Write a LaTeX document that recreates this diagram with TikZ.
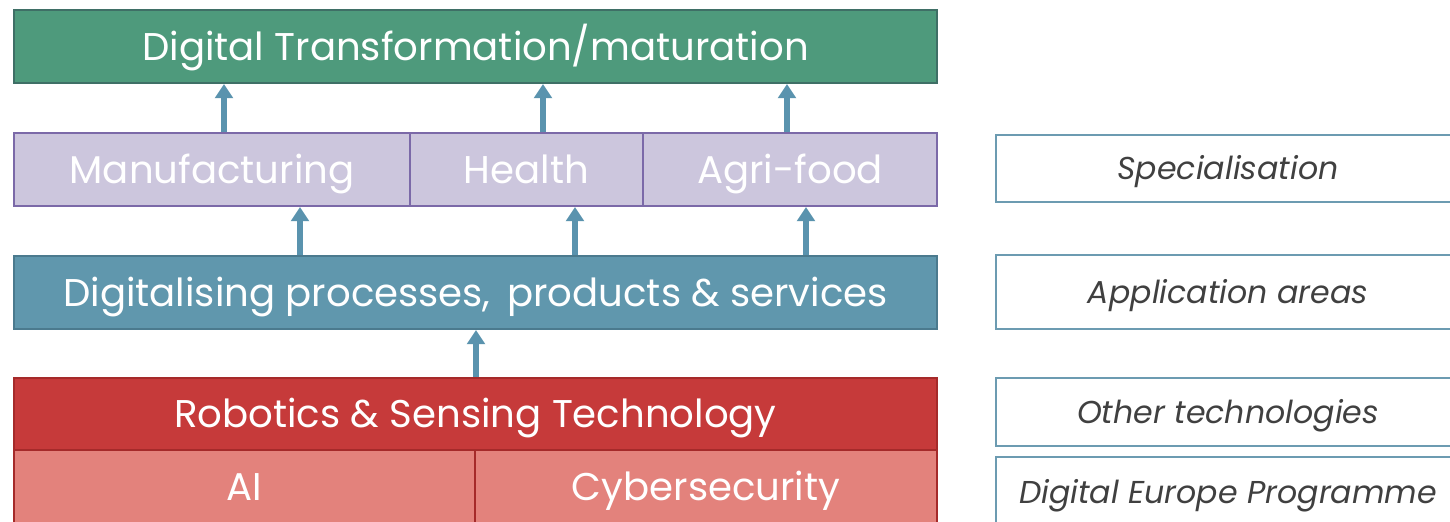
\documentclass[tikz,border=0pt]{standalone}
\usepackage{fontspec}
\setmainfont{Poppins}
\usetikzlibrary{arrows.meta}
\definecolor{greenfill}{HTML}{4E9A7C}
\definecolor{greenline}{HTML}{3F6F66}
\definecolor{lilacfill}{HTML}{CCC6DD}
\definecolor{lilacline}{HTML}{7B69A8}
\definecolor{bluefill}{HTML}{6097AD}
\definecolor{blueline}{HTML}{4B7A8E}
\definecolor{redfill}{HTML}{C63A3A}
\definecolor{redline}{HTML}{A52A2A}
\definecolor{pinkfill}{HTML}{E3827C}
\definecolor{arrowblue}{HTML}{5A93AE}
\definecolor{sideline}{HTML}{6C9BB1}
\definecolor{sidetext}{HTML}{404040}
\tikzset{
  layer/.style={draw, line width=1.2pt, inner sep=0pt, text=white,
    text height=15.4pt, text depth=0pt, font=\fontsize{22}{26}\selectfont},
  side/.style={draw=sideline, line width=1.2pt, fill=white, inner sep=0pt,
    text=sidetext, text height=12.6pt, text depth=0pt, minimum width=9.28cm,
    font=\fontsize{18}{22}\selectfont\itshape},
  up/.style={draw=arrowblue, line width=3.4pt, -{Triangle[width=10pt,length=8pt]}}
}
\begin{document}
\begin{tikzpicture}[x=0.02cm, y=-0.02cm]
\clip (0,0) rectangle (1450,521);
\fill[white] (0,0) rectangle (1450,521);

% stacked layers
\node[layer, fill=greenfill, draw=greenline, minimum width=18.46cm, minimum height=1.46cm] (dtm) at (475.5,46.5) {Digital Transformation/maturation};

\node[layer, fill=lilacfill, draw=lilacline, minimum width=7.92cm, minimum height=1.46cm] (manu) at (212,169.5) {Manufacturing};
\node[layer, fill=lilacfill, draw=lilacline, minimum width=4.66cm, minimum height=1.46cm] (health) at (526.5,169.5) {Health};
\node[layer, fill=lilacfill, draw=lilacline, minimum width=5.88cm, minimum height=1.46cm] (agri) at (790,169.5) {Agri-food};

\node[layer, fill=bluefill, draw=blueline, minimum width=18.46cm, minimum height=1.46cm] (digi) at (475.5,292.5) {Digitalising processes,\, products \& services};

\node[layer, fill=redfill, draw=redline, minimum width=18.46cm, minimum height=1.44cm] (robo) at (475.5,414) {Robotics \& Sensing Technology};

\node[layer, fill=pinkfill, draw=redline, minimum width=9.22cm, minimum height=1.46cm] (ai) at (244.5,486.5) {AI};
\node[layer, fill=pinkfill, draw=redline, minimum width=9.24cm, minimum height=1.46cm] (cyber) at (706,486.5) {Cybersecurity};

% arrows
\draw[up] (manu.north -| 224,0) -- (dtm.south -| 224,0);
\draw[up] (health.north -| 543,0) -- (dtm.south -| 543,0);
\draw[up] (agri.north -| 787,0) -- (dtm.south -| 787,0);
\draw[up] (digi.north -| 300,0) -- (manu.south -| 300,0);
\draw[up] (digi.north -| 575,0) -- (health.south -| 575,0);
\draw[up] (digi.north -| 806,0) -- (agri.south -| 806,0);
\draw[up] (robo.north -| 476,0) -- (digi.south -| 476,0);

% legend on the right
\node[side, minimum height=1.34cm] (spec) at (1228,168.5) {Specialisation};
\node[side, minimum height=1.48cm] (appl) at (1228,292) {Application areas};
\node[side, minimum height=1.36cm] (other) at (1228,412) {Other technologies};
\node[side, minimum height=1.40cm] (dep) at (1228,492) {Digital Europe Programme};
\end{tikzpicture}
\end{document}
